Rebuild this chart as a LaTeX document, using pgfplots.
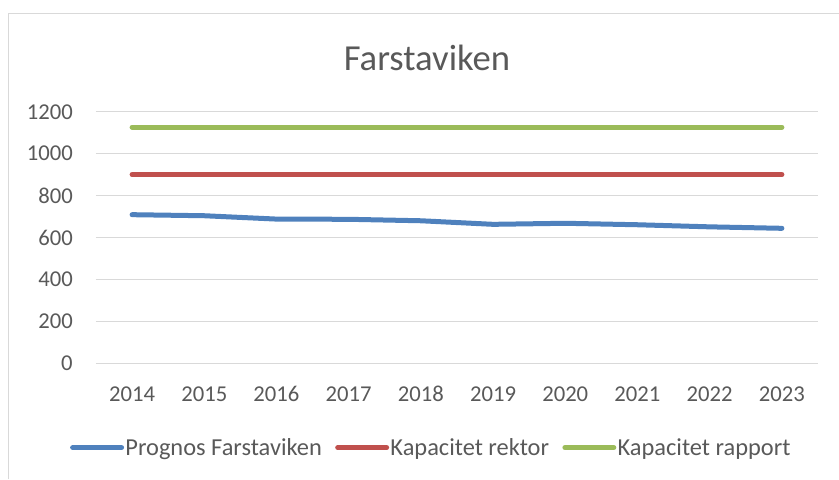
\documentclass[border=0pt]{standalone}
\usepackage{fontspec}
\setmainfont{Carlito}
\usepackage{pgfplots}
\pgfplotsset{compat=1.18}
\definecolor{TxtGray}{HTML}{595959}
\definecolor{GridGray}{HTML}{D9D9D9}
\definecolor{XlBlue}{HTML}{4F81BD}
\definecolor{XlRed}{HTML}{C0504D}
\definecolor{XlGreen}{HTML}{9BBB59}

\begin{document}
\begin{tikzpicture}
% page = 839x479 px at 0.75pt per px
\useasboundingbox (0pt,0pt) rectangle (629.25pt,-359.25pt);
\draw[GridGray,line width=0.75pt] (6pt,-359.25pt) -- (6pt,-9.75pt) -- (629.25pt,-9.75pt);
\node[anchor=base,text=TxtGray,font=\fontsize{27.5}{32}\selectfont] at (320.25pt,-52.5pt) {Farstaviken};

\begin{axis}[
  scale only axis,
  width=541.5pt, height=188.7pt,
  at={(72pt,-272.5pt)}, anchor=south west,
  xmin=2013.5, xmax=2023.5, ymin=0, ymax=1200,
  xtick={2014,...,2023}, ytick={0,200,...,1200},
  axis line style={draw=none},
  major tick length=0pt,
  ymajorgrids, grid style={GridGray,line width=0.75pt},
  /pgf/number format/assume math mode=true,
  /pgf/number format/1000 sep={},
  tick label style={text=TxtGray,font=\fontsize{17}{20}\selectfont},
  yticklabel style={anchor=east,inner sep=0pt,xshift=-17.25pt},
  xticklabel style={anchor=base,inner sep=0pt,yshift=-28.8pt},
  legend columns=3,
  legend style={draw=none,fill=none,at={(0.464,-0.335)},anchor=center,
    font=\fontsize{18.3}{22}\selectfont,text=TxtGray,
    nodes={inner sep=1pt},column sep=0pt,
    /tikz/every even column/.append style={column sep=9pt}},
  legend image code/.code={\draw[#1,line cap=round] (1.9pt,0pt) -- (38.6pt,0pt);},
  every axis plot/.append style={line width=3.75pt,line cap=round,line join=round},
]
\addplot[XlBlue] coordinates {
(2014,709) (2015,704) (2016,688) (2017,687) (2018,680)
(2019,663) (2020,668) (2021,661) (2022,651) (2023,644)};
\addlegendentry{Prognos Farstaviken}
\addplot[XlRed] coordinates {
(2014,900) (2015,900) (2016,900) (2017,900) (2018,900)
(2019,900) (2020,900) (2021,900) (2022,900) (2023,900)};
\addlegendentry{Kapacitet rektor}
\addplot[XlGreen] coordinates {
(2014,1126) (2015,1126) (2016,1126) (2017,1126) (2018,1126)
(2019,1126) (2020,1126) (2021,1126) (2022,1126) (2023,1126)};
\addlegendentry{Kapacitet rapport}
\end{axis}
\end{tikzpicture}
\end{document}
